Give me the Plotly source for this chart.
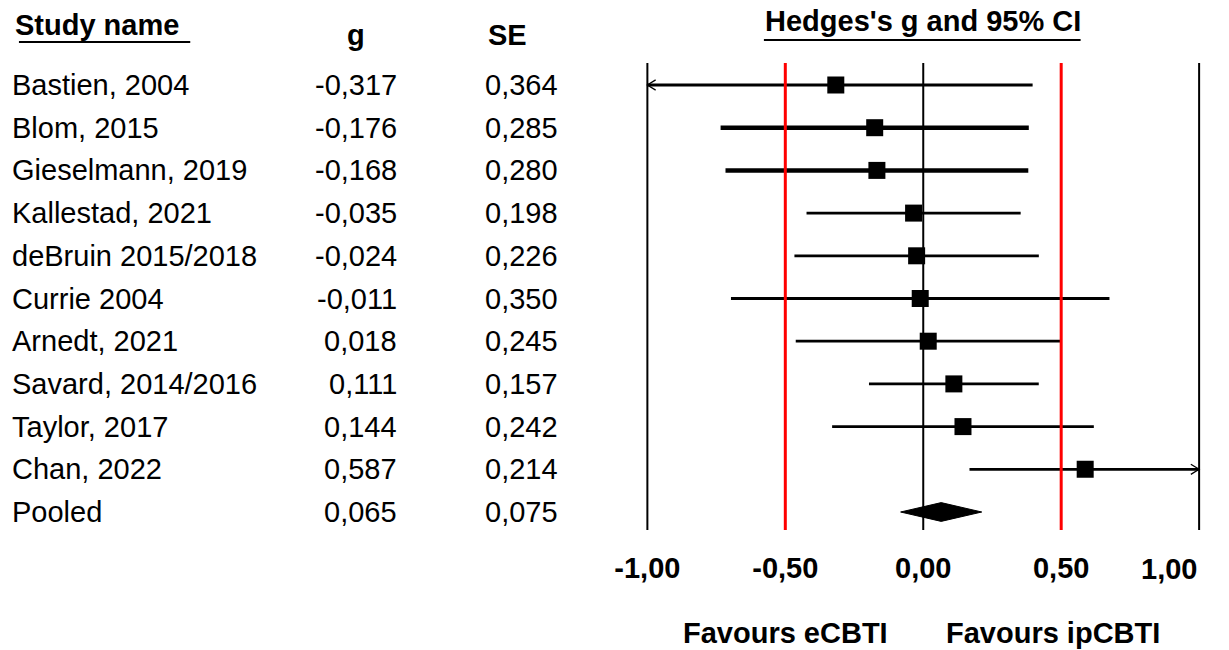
import plotly.graph_objects as go

# ---------------- data ----------------
studies = ["Bastien, 2004", "Blom, 2015", "Gieselmann, 2019", "Kallestad, 2021",
           "deBruin 2015/2018", "Currie 2004", "Arnedt, 2021", "Savard, 2014/2016",
           "Taylor, 2017", "Chan, 2022"]
g_vals = [-0.317, -0.176, -0.168, -0.035, -0.024, -0.011, 0.018, 0.111, 0.144, 0.587]
se_vals = [0.364, 0.285, 0.280, 0.198, 0.226, 0.350, 0.245, 0.157, 0.242, 0.214]
pooled_label = "Pooled"
pooled_g = 0.065
pooled_se = 0.075
tick_vals = [-1, -0.5, 0, 0.5, 1]
tick_text = ["-1,00", "-0,50", "0,00", "0,50", "1,00"]
ref_lines_black = [-1, 0, 1]
ref_lines_red = [-0.5, 0.5]
favours_left = "Favours eCBTI"
favours_right = "Favours ipCBTI"
title_text = "Hedges's g and 95% CI"

# ---------------- styles ----------------
W, H = 1229, 650
FONT = "Arial, 'Liberation Sans', sans-serif"
FS = 29
thick_rows = {"Blom, 2015", "Gieselmann, 2019"}
XMIN, XMAX = -1, 1

def row_of(pix):
    return (pix - 85) / 42.7

def fmt(v):
    return f"{v:.3f}".replace(".", ",")

fig = go.Figure()

n = len(studies)
# CI lines
for i, (name, gv, sv) in enumerate(zip(studies, g_vals, se_vals)):
    lo, hi = gv - 1.96 * sv, gv + 1.96 * sv
    lo_c, hi_c = max(lo, XMIN), min(hi, XMAX)
    fig.add_trace(go.Scatter(x=[lo_c, hi_c], y=[i, i], mode="lines",
                             line=dict(color="black", width=4.5 if name in thick_rows else 2.8),
                             showlegend=False, hoverinfo="skip"))
    # open arrowheads where CI exceeds axis
    dx, dy = 0.03, 0.12
    if lo < XMIN:
        fig.add_trace(go.Scatter(x=[lo_c + dx, lo_c, lo_c + dx], y=[i - dy, i, i + dy],
                                 mode="lines", line=dict(color="black", width=1.3),
                                 showlegend=False, hoverinfo="skip"))
    if hi > XMAX:
        fig.add_trace(go.Scatter(x=[hi_c - dx, hi_c, hi_c - dx], y=[i - dy, i, i + dy],
                                 mode="lines", line=dict(color="black", width=1.3),
                                 showlegend=False, hoverinfo="skip"))

# point estimates
fig.add_trace(go.Scatter(x=g_vals, y=list(range(n)), mode="markers",
                         marker=dict(symbol="square", size=17, color="black"),
                         showlegend=False, hoverinfo="skip"))

# pooled diamond
plo, phi = pooled_g - 1.96 * pooled_se, pooled_g + 1.96 * pooled_se
hh = 0.22
fig.add_trace(go.Scatter(x=[plo, pooled_g, phi, pooled_g, plo],
                         y=[n, n - hh, n, n + hh, n],
                         mode="lines", fill="toself", fillcolor="black",
                         line=dict(color="black", width=1),
                         showlegend=False, hoverinfo="skip"))

# reference lines
y_top, y_bot = row_of(63), row_of(530)
for xv in ref_lines_black:
    fig.add_shape(type="line", xref="x", yref="y", x0=xv, x1=xv, y0=y_top, y1=y_bot,
                  line=dict(color="black", width=2), layer="below")
for xv in ref_lines_red:
    fig.add_shape(type="line", xref="x", yref="y", x0=xv, x1=xv, y0=y_top, y1=y_bot,
                  line=dict(color="#ff0000", width=3), layer="above")

# left table text
all_names = studies + [pooled_label]
all_g = g_vals + [pooled_g]
all_se = se_vals + [pooled_se]
for i, (nm, gv, sv) in enumerate(zip(all_names, all_g, all_se)):
    fig.add_annotation(x=5 / W, y=i, xref="paper", yref="y", text=nm, showarrow=False,
                       xanchor="left", yanchor="middle", font=dict(family=FONT, size=FS, color="black"))
    fig.add_annotation(x=396 / W, y=i, xref="paper", yref="y", text=fmt(gv), showarrow=False,
                       xanchor="right", yanchor="middle", font=dict(family=FONT, size=FS, color="black"))
    fig.add_annotation(x=557 / W, y=i, xref="paper", yref="y", text=fmt(sv), showarrow=False,
                       xanchor="right", yanchor="middle", font=dict(family=FONT, size=FS, color="black"))

# headers
bold = dict(family=FONT, size=FS, color="black")
fig.add_annotation(x=8 / W, y=row_of(25), xref="paper", yref="y", text="<b>Study name</b>",
                   showarrow=False, xanchor="left", yanchor="middle", font=bold)
fig.add_annotation(x=352 / W, y=row_of(35), xref="paper", yref="y", text="<b>g</b>",
                   showarrow=False, xanchor="center", yanchor="middle", font=bold)
fig.add_annotation(x=505 / W, y=row_of(35), xref="paper", yref="y", text="<b>SE</b>",
                   showarrow=False, xanchor="center", yanchor="middle", font=bold)
fig.add_annotation(x=0, y=row_of(21), xref="x", yref="y", text=f"<b>{title_text}</b>",
                   showarrow=False, xanchor="center", yanchor="middle", font=bold)
# underlines
fig.add_shape(type="line", xref="paper", yref="y", x0=14 / W, x1=186 / W,
              y0=row_of(42), y1=row_of(42), line=dict(color="black", width=2))
fig.add_shape(type="line", xref="paper", yref="y", x0=762 / W, x1=1080 / W,
              y0=row_of(40), y1=row_of(40), line=dict(color="black", width=2))

# favours labels
fig.add_annotation(x=-0.5, y=row_of(633), xref="x", yref="y", text=f"<b>{favours_left}</b>",
                   showarrow=False, xanchor="center", yanchor="middle", font=bold)
fig.add_annotation(x=0.47, y=row_of(633), xref="x", yref="y", text=f"<b>{favours_right}</b>",
                   showarrow=False, xanchor="center", yanchor="middle", font=bold)

# axes: x = -1 at pixel 645, x = 1 at pixel 1199
px_per_unit = (1199 - 645) / 2
x0_pix = 645 - 0.1 * px_per_unit
x1_pix = 1199 + 0.1 * px_per_unit
tick_labels = [f"<b>{t}</b>" for t in tick_text]
fig.update_xaxes(range=[-1.1, 1.1], domain=[x0_pix / W, x1_pix / W],
                 showgrid=False, zeroline=False, showline=False, ticks="",
                 tickvals=tick_vals[:-1], ticktext=tick_labels[:-1],
                 tickfont=dict(family=FONT, size=FS, color="black"),
                 anchor="free", position=1 - 548 / H)
# last tick label pulled inside the page edge (right-aligned at its tick), as in the reference
fig.add_annotation(x=tick_vals[-1], y=row_of(569), xref="x", yref="y", text=tick_labels[-1],
                   showarrow=False, xanchor="right", yanchor="middle", font=bold)
fig.update_yaxes(range=[row_of(H), row_of(0)], domain=[0, 1], visible=False)

fig.update_layout(width=W, height=H, margin=dict(l=0, r=0, t=0, b=0),
                  plot_bgcolor="white", paper_bgcolor="white")

fig.write_html("out.html")
